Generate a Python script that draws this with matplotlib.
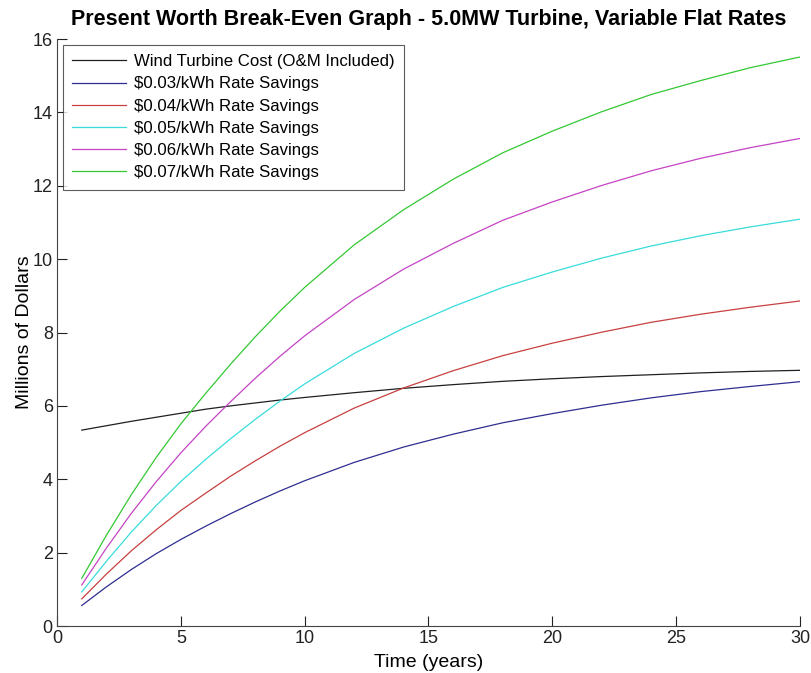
import matplotlib
matplotlib.use('Agg')
import matplotlib.pyplot as plt

plt.rcParams.update({
    'font.family': ['Liberation Sans', 'DejaVu Sans'],
    'font.size': 12,
})

years = [1, 2, 3, 4, 5, 6, 7, 8, 9, 10, 12, 14, 16, 18, 20, 22, 24, 26, 28, 30]

# present worth, millions of dollars
turbine_cost = [5.34, 5.46, 5.58, 5.69, 5.80, 5.91, 6.00, 6.08, 6.16, 6.23,
                6.36, 6.48, 6.58, 6.67, 6.74, 6.80, 6.85, 6.90, 6.94, 6.97]
savings_003 = [0.56, 1.07, 1.54, 1.97, 2.36, 2.72, 3.06, 3.38, 3.68, 3.96,
               4.46, 4.88, 5.23, 5.54, 5.79, 6.02, 6.22, 6.39, 6.53, 6.66]
savings_004 = [0.74, 1.42, 2.05, 2.62, 3.15, 3.62, 4.08, 4.50, 4.90, 5.27,
               5.94, 6.49, 6.96, 7.37, 7.71, 8.01, 8.28, 8.50, 8.69, 8.86]
savings_005 = [0.93, 1.77, 2.56, 3.28, 3.94, 4.54, 5.10, 5.63, 6.13, 6.60,
               7.43, 8.12, 8.71, 9.23, 9.65, 10.03, 10.36, 10.64, 10.88, 11.09]
savings_006 = [1.12, 2.13, 3.07, 3.93, 4.72, 5.44, 6.11, 6.75, 7.35, 7.91,
               8.90, 9.73, 10.43, 11.06, 11.56, 12.01, 12.41, 12.75, 13.04, 13.29]
savings_007 = [1.30, 2.48, 3.58, 4.59, 5.51, 6.34, 7.13, 7.88, 8.58, 9.23,
               10.39, 11.35, 12.18, 12.90, 13.49, 14.02, 14.49, 14.87, 15.22, 15.51]

series = [
    (turbine_cost, 'Wind Turbine Cost (O&M Included)', '#202020'),
    (savings_003, '$0.03/kWh Rate Savings', '#2e2e90'),
    (savings_004, '$0.04/kWh Rate Savings', '#c84040'),
    (savings_005, '$0.05/kWh Rate Savings', '#38dcdc'),
    (savings_006, '$0.06/kWh Rate Savings', '#c444c4'),
    (savings_007, '$0.07/kWh Rate Savings', '#34c834'),
]

fig = plt.figure(figsize=(8.12, 6.73), dpi=100)
ax = fig.add_axes([0.0702, 0.0698, 0.9150, 0.8722])

for vals, lab, col in series:
    ax.plot(years, vals, color=col, lw=0.9, label=lab)

ax.set_xlim(0, 30)
ax.set_ylim(0, 16)
ax.set_xticks(range(0, 31, 5))
ax.set_yticks(range(0, 17, 2))
ax.tick_params(direction='in', length=7, width=0.8, labelsize=13, colors='#222222', pad=3)
ax.spines['top'].set_visible(False)
ax.spines['right'].set_visible(False)
for s in ['left', 'bottom']:
    ax.spines[s].set_color('#444444')
    ax.spines[s].set_linewidth(0.8)

ax.set_xlabel('Time (years)', fontsize=14, labelpad=5)
ax.set_ylabel('Millions of Dollars', fontsize=14, labelpad=0)
ax.set_title('Present Worth Break-Even Graph - 5.0MW Turbine, Variable Flat Rates',
             fontsize=15.5, fontweight='bold', pad=10)

leg = ax.legend(loc='upper left', fontsize=12.1, frameon=True, fancybox=False,
                handlelength=3.2, handletextpad=0.5, borderpad=0.55,
                labelspacing=0.43, borderaxespad=0.35)
leg.get_frame().set_edgecolor('#333333')
leg.get_frame().set_linewidth(0.8)

fig.savefig('out.png', dpi=100)
